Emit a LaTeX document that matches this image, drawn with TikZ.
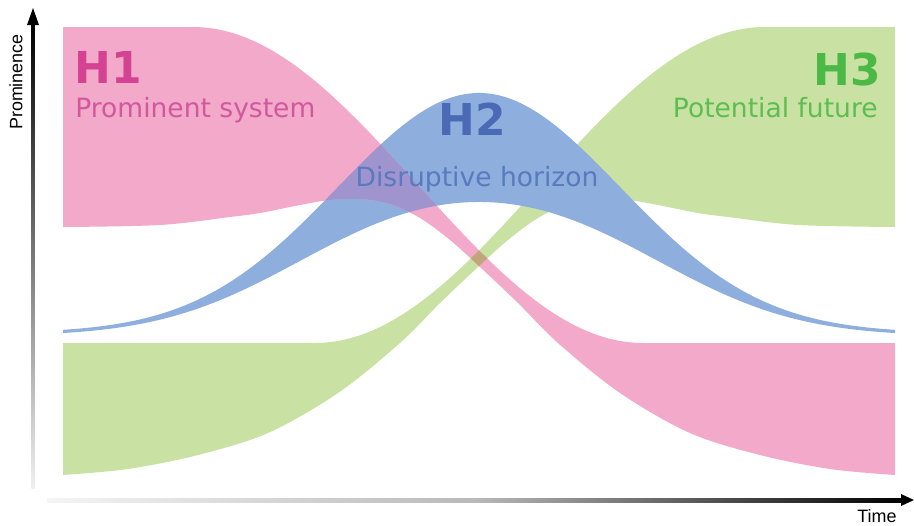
\documentclass[tikz,border=0pt]{standalone}
\usepackage{fontspec}
\newfontfamily\dv{DejaVu Sans}
\newfontfamily\lib{Liberation Sans}
\definecolor{pinkc}{RGB}{242,169,202}
\definecolor{bluec}{RGB}{142,174,221}
\definecolor{greenc}{RGB}{201,226,163}
\definecolor{lavc}{RGB}{160,148,207}
\definecolor{olivec}{RGB}{192,166,122}
\definecolor{honecol}{RGB}{212,66,146}
\definecolor{honesub}{RGB}{210,88,158}
\definecolor{htwocol}{RGB}{74,106,182}
\definecolor{htwosub}{RGB}{88,122,190}
\definecolor{hthreecol}{RGB}{76,184,70}
\definecolor{hthreesub}{RGB}{92,190,80}
\tikzset{
  headtxt/.style={font=\dv\bfseries\fontsize{25}{30}\selectfont, inner sep=0pt},
  subtxt/.style={font=\dv\fontsize{15.1}{18}\selectfont, inner sep=0pt},
  axistxt/.style={font=\lib\fontsize{10.2}{12}\selectfont, inner sep=0pt},
  arrowhead/.style={fill=black}
}
\newcommand\greenshape{(63,343) -- (315,343)
  -- plot[domain=315:765,samples=120] (\x,{27+316*(0.5-0.5*cos(0.4*(765-\x)))})
  -- (895,27)
  -- plot[smooth,tension=0.55] coordinates {(895,227) (798,225) (728,217) (698,213) (658,205) (628,200) (598,199) (568,204) (538,218) (508,240) (478,267) (440,303) (400,343) (338,393) (268,433) (198,455) (128,469) (63,475)} -- cycle}
\newcommand\blueshape{plot[domain=63:895,samples=150] (\x,{333-240*exp(-1*((\x-479)/200)^2)})
  -- plot[domain=895:63,samples=150] (\x,{336-240*exp(-1*((\x-479)/200)^2)+106*exp(-1*((\x-479)/165)^2)}) -- cycle}
\newcommand\pinkshape{(63,27) -- (193,27)
  -- plot[domain=193:643,samples=120] (\x,{27+316*(0.5-0.5*cos(0.4*(\x-193)))})
  -- (895,343)
  -- plot[smooth,tension=0.55] coordinates {(895,475) (830,469) (760,455) (690,433) (620,393) (558,343) (518,303) (480,267) (450,240) (420,218) (390,204) (360,199) (330,200) (300,205) (260,213) (230,217) (160,225) (63,227)} -- cycle}
\begin{document}
\begin{tikzpicture}[x=0.02cm,y=-0.02cm]
\useasboundingbox (0,0) rectangle (914,525);

% bands
\fill[greenc] \greenshape;
\fill[bluec] \blueshape;
\fill[pinkc] \pinkshape;
% overlaps
\begin{scope}
  \clip \pinkshape;
  \fill[lavc] \blueshape;
  \fill[olivec] \greenshape;
\end{scope}

% axes
\coordinate (ybot) at (33,488);
\coordinate (ytop) at (33,8);
\coordinate (xleft) at (47,500);
\coordinate (xright) at (914,500);
\shade[top color=black, bottom color=gray!12] (31.3,488) rectangle (34.7,22);
\fill[arrowhead] (ytop) -- (27,25) -- (39,25) -- cycle;
\shade[left color=gray!8, right color=black, middle color=gray!55] (47,498) rectangle (903,502);
\fill[arrowhead] (xright) -- (901,494) -- (901,506) -- cycle;

\node[axistxt, rotate=90] (ylab) at (16,82) {Prominence};
\node[axistxt] (xlab) at (877,516) {Time};

% labels
\node[headtxt, text=honecol, anchor=base west] (h1) at (74,83) {H1};
\node[subtxt, text=honesub, anchor=base west] (h1s) at (75,117) {Prominent system};
\node[headtxt, text=htwocol, anchor=base] (h2) at (472,135) {H2};
\node[subtxt, text=htwosub, anchor=base] (h2s) at (477,186) {Disruptive horizon};
\node[headtxt, text=hthreecol, anchor=base east] (h3) at (881,85) {H3};
\node[subtxt, text=hthreesub, anchor=base east] (h3s) at (878,117) {Potential future};
\end{tikzpicture}
\end{document}
